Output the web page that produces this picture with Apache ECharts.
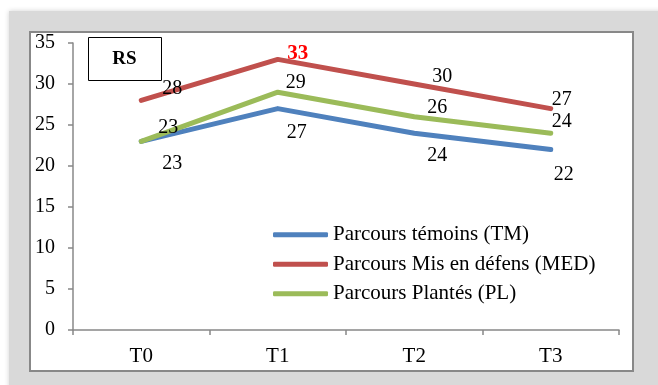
<!DOCTYPE html>
<html>
<head>
<meta charset="utf-8">
<script src="https://cdn.jsdelivr.net/npm/echarts@6/dist/echarts.min.js"></script>
<style>
html,body{margin:0;padding:0;background:#fff;}
#chart{width:658px;height:385px;}
</style>
</head>
<body>
<div id="chart"></div>
<script>
// Periods on the x axis
const periods = ['T0', 'T1', 'T2', 'T3'];
// RS values per rangeland type
const temoins = [23, 27, 24, 22];
const misEnDefens = [28, 33, 30, 27];
const plantes = [23, 29, 26, 24];
// Label offsets (dx, dy) from each point
const offTM = [[31, 22], [19, 24], [23, 23], [13, 25]];
const offMED = [[31, -12], [20, -6], [28, -7], [11, -9]];
const offPL = [[27, -14], [18, -9], [23, -9], [11, -11]];

const serif = '"Liberation Serif", "Times New Roman", serif';

function withLabels(values, offsets, special) {
  return values.map((v, i) => {
    const lab = { offset: offsets[i] };
    if (special && special[i]) Object.assign(lab, special[i]);
    return { value: v, label: lab };
  });
}

const chart = echarts.init(document.getElementById('chart'), null, { renderer: 'canvas' });

function lineSeries(name, color, data) {
  return {
    name: name,
    type: 'line',
    data: data,
    symbol: 'circle',
    symbolSize: 0.1,
    itemStyle: { color: color },
    lineStyle: { color: color, width: 5, cap: 'round', join: 'round' },
    label: {
      show: true,
      position: 'inside',
      align: 'center',
      verticalAlign: 'middle',
      color: '#000',
      fontFamily: serif,
      fontSize: 20
    },
    emphasis: { disabled: true },
    animation: false,
    z: 3
  };
}

chart.setOption({
  animation: false,
  backgroundColor: '#ffffff',
  graphic: [
    {
      type: 'rect', z: -10,
      shape: { x: 9, y: 11, width: 660, height: 390 },
      style: { fill: '#d9d9d9', shadowBlur: 5, shadowColor: 'rgba(0,0,0,0.18)' }
    },
    {
      type: 'rect', z: -9,
      shape: { x: 30, y: 32, width: 603, height: 339 },
      style: { fill: '#ffffff', stroke: '#888888', lineWidth: 2 }
    },
    {
      type: 'group', left: 88, top: 37, z: 10,
      children: [
        { type: 'rect', shape: { x: 0, y: 0, width: 73, height: 43 },
          style: { fill: '#ffffff', stroke: '#000', lineWidth: 1 } },
        { type: 'text', x: 36, y: 22,
          style: { text: 'RS', fill: '#000', font: 'bold 19px ' + serif,
                   textAlign: 'center', textVerticalAlign: 'middle' } }
      ]
    }
  ],
  grid: { left: 73, top: 43, right: 39, bottom: 55, containLabel: false },
  legend: {
    orient: 'vertical',
    left: 268,
    top: 215,
    itemWidth: 55,
    itemHeight: 5,
    itemGap: 0,
    itemTextGap: 4,
    icon: 'roundRect',
    itemStyle: { borderWidth: 0 },
    textStyle: { fontFamily: serif, fontSize: 21, color: '#000', lineHeight: 29.5 },
    data: ['Parcours témoins (TM)', 'Parcours Mis en défens (MED)', 'Parcours Plantés (PL)'],
    selectedMode: false
  },
  xAxis: {
    type: 'category',
    data: periods,
    boundaryGap: true,
    axisLine: { lineStyle: { color: '#888888', width: 1.5 } },
    axisTick: { show: true, length: 5, alignWithLabel: false, lineStyle: { color: '#888888', width: 1.5 } },
    axisLabel: { color: '#000', fontFamily: serif, fontSize: 21, margin: 16 },
    splitLine: { show: false }
  },
  yAxis: {
    type: 'value',
    min: 0, max: 35, interval: 5,
    axisLine: { show: true, lineStyle: { color: '#888888', width: 1.5 } },
    axisTick: { show: true, length: 5, lineStyle: { color: '#888888', width: 1.5 } },
    axisLabel: { color: '#000', fontFamily: serif, fontSize: 20, margin: 18 },
    splitLine: { show: false }
  },
  series: [
    lineSeries('Parcours témoins (TM)', '#4f81bd', withLabels(temoins, offTM)),
    lineSeries('Parcours Mis en défens (MED)', '#c0504d',
      withLabels(misEnDefens, offMED, { 1: { color: '#ff0000', fontWeight: 'bold', fontSize: 21 } })),
    lineSeries('Parcours Plantés (PL)', '#9bbb59', withLabels(plantes, offPL))
  ]
});
</script>
</body>
</html>
